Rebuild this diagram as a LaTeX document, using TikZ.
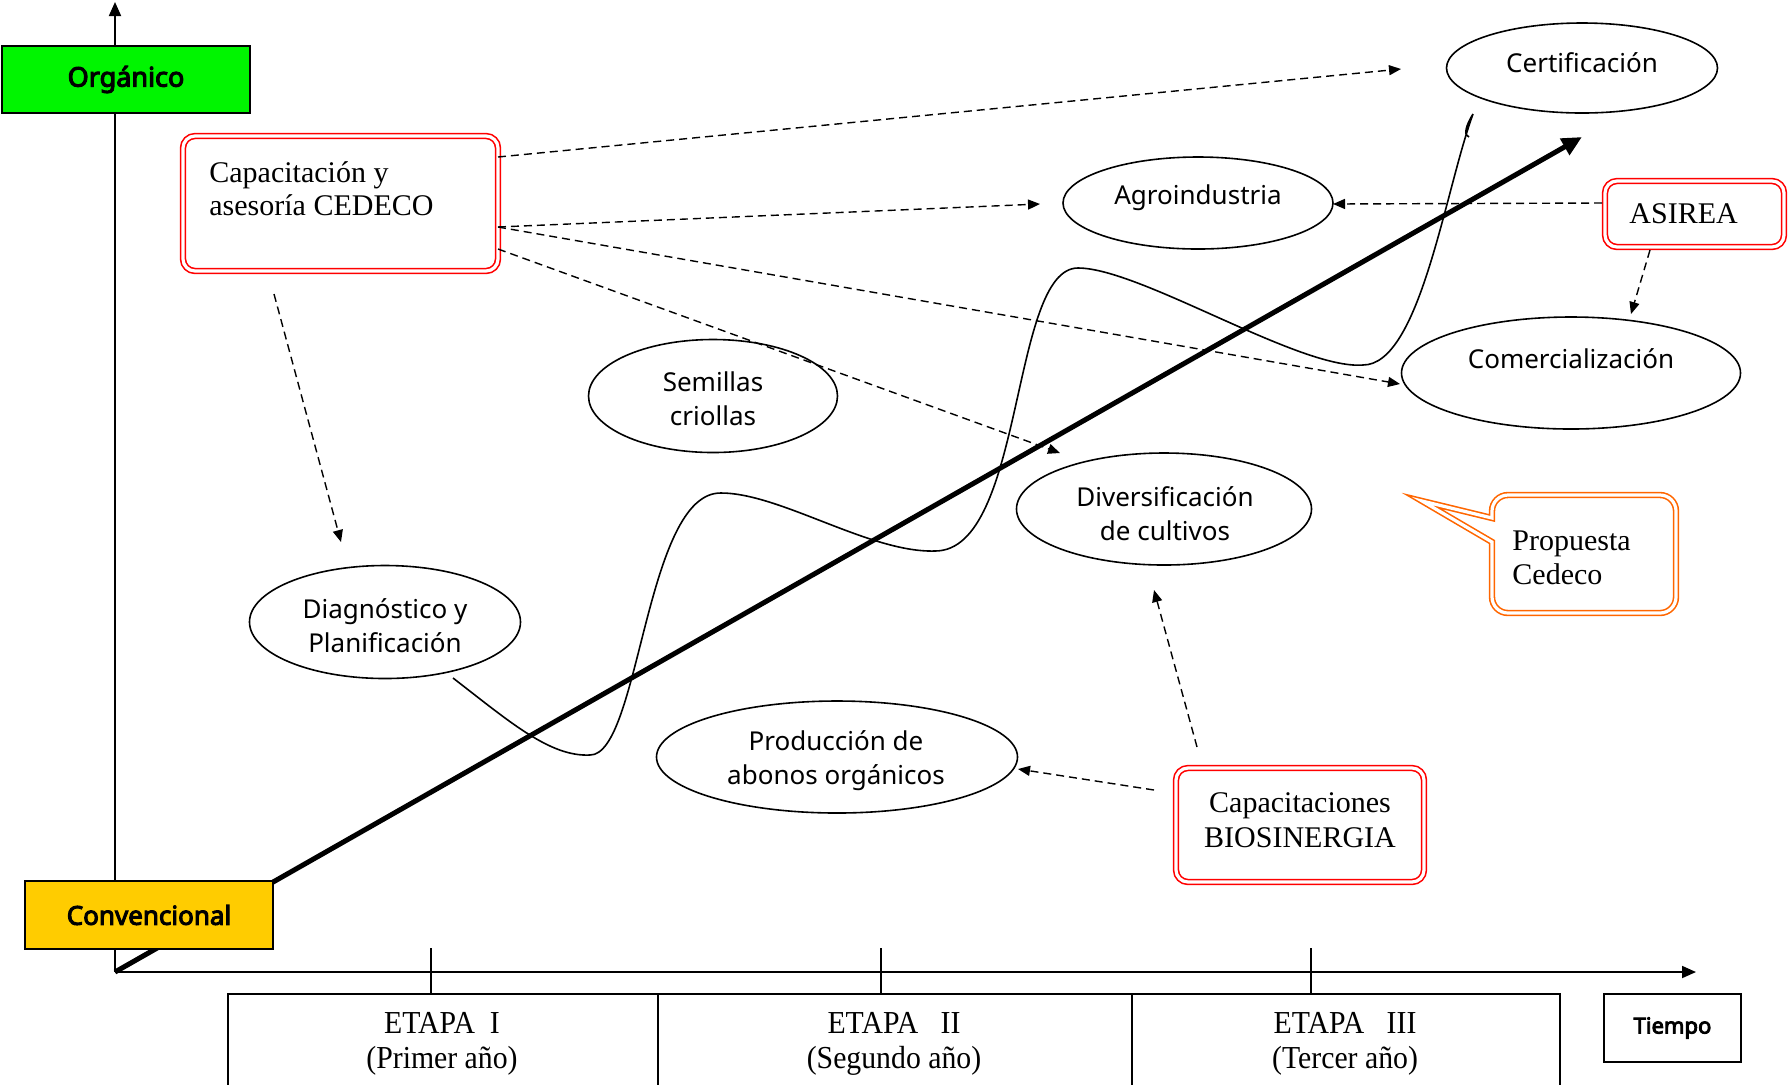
\documentclass[tikz,border=0pt]{standalone}
\usepackage{fontspec}
\setmainfont{Liberation Serif}
\newfontfamily\ovalfam{Noto Sans}
\newfontfamily\lblfam[FakeBold=4]{Noto Sans}
\newfontfamily\etapafam[FakeStretch=0.93]{Liberation Serif}
\usetikzlibrary{shapes.geometric,arrows.meta}
\definecolor{orgreen}{RGB}{0,245,0}
\definecolor{convgold}{RGB}{255,204,0}
\definecolor{callorange}{RGB}{255,102,0}
\tikzset{
  oval/.style={draw, ellipse, line width=0.8pt, inner sep=0pt},
  ovaltxt/.style={font=\ovalfam\fontsize{13}{17}\selectfont, align=center, inner sep=0pt},
  redbox/.style={draw=red, double=white, double distance=1.6pt, line width=0.8pt, rounded corners=6pt, inner sep=0pt},
  boxtxt/.style={font=\fontsize{15}{17}\selectfont, inner sep=0pt},
  darr/.style={dash pattern=on 4pt off 2.5pt, line width=0.7pt, -{Triangle[length=6pt,width=5pt]}},
  axisline/.style={line width=0.9pt},
  lblbox/.style={draw, line width=0.8pt, inner sep=0pt, font=\lblfam\fontsize{13}{16}\selectfont},
  etapabox/.style={draw, line width=0.8pt, inner sep=0pt, anchor=north west},
  etapatxt/.style={font=\etapafam\fontsize{16}{17.5}\selectfont, align=center, inner sep=0pt, anchor=north},
  wave/.style={line width=0.8pt},
}
\begin{document}
\begin{tikzpicture}[x=0.5pt,y=-0.5pt]
\useasboundingbox (0,0) rectangle (1788,1084);

% axes
\coordinate (O) at (115,972);
\coordinate (ytop) at (115,2);
\coordinate (xend) at (1696,972);
\draw[axisline, -{Triangle[length=7pt,width=6pt]}] (O) -- (ytop);
\draw[axisline, -{Triangle[length=7pt,width=6pt]}] (O) -- (xend);

% ticks
\coordinate (t1a) at (431,948); \coordinate (t1b) at (431,993);
\coordinate (t2a) at (881,948); \coordinate (t2b) at (881,993);
\coordinate (t3a) at (1311,948); \coordinate (t3b) at (1311,993);
\draw[axisline] (t1a) -- (t1b);
\draw[axisline] (t2a) -- (t2b);
\draw[axisline] (t3a) -- (t3b);

% stage boxes
\node[etapabox, minimum width=215pt, minimum height=60pt] (e1) at (227,993) {};
\node[etapabox, minimum width=237pt, minimum height=60pt] (e2) at (657,993) {};
\node[etapabox, minimum width=214pt, minimum height=60pt] (e3) at (1131,993) {};
\node[etapatxt] (e1t) at (442,1012) {ETAPA\ \ I\\(Primer año)};
\node[etapatxt] (e2t) at (894,1012) {ETAPA\ \ \ II\\(Segundo año)};
\node[etapatxt] (e3t) at (1345,1012) {ETAPA\ \ \ III\\(Tercer año)};
\node[lblbox, font=\lblfam\fontsize{11}{13}\selectfont, minimum width=68.5pt, minimum height=34pt] (tiempo) at (1672.5,1028) {Tiempo};

% thick trend arrow
\coordinate (thick) at (1582,137);
\draw[line width=2.5pt, -{Triangle[length=10pt,width=9pt]}] (O) -- (thick);

% wavy curve
\draw[wave] (453,678) .. controls (510,722) and (550,757) .. (590,755)
  .. controls (640,755) and (645,492) .. (721,493)
  .. controls (780,493) and (870,553) .. (935,551)
  .. controls (1025,551) and (1010,268) .. (1078,268)
  .. controls (1140,268) and (1300,370) .. (1363,365)
  .. controls (1420,365) and (1445,190) .. (1473,114)
  .. controls (1466,125) and (1463,136) .. (1469,137);

% ellipses
\node[oval, minimum width=135.5pt, minimum height=45pt] (cert) at (1582,68) {};
\node[oval, minimum width=135pt, minimum height=46pt] (agro) at (1198,203) {};
\node[oval, minimum width=169.5pt, minimum height=56pt] (comer) at (1571,373) {};
\node[oval, minimum width=147.5pt, minimum height=56pt] (diver) at (1164,509) {};
\node[oval, minimum width=124.5pt, minimum height=56.5pt] (semi) at (713,396) {};
\node[oval, minimum width=135.5pt, minimum height=56.5pt] (diag) at (385,622) {};
\node[oval, minimum width=180.5pt, minimum height=56pt] (prod) at (837,757) {};

\node[ovaltxt] (certt) at (1582,63) {Certificación};
\node[ovaltxt] (agrot) at (1198,198) {Agroindustria};
\node[ovaltxt] (comert) at (1571,359) {Comercialización};
\node[ovaltxt] (divert) at (1165,514) {Diversificación\\de cultivos};
\node[ovaltxt] (semit) at (713,399) {Semillas\\criollas};
\node[ovaltxt] (diagt) at (385,626) {Diagnóstico y\\Planificación};
\node[ovaltxt] (prodt) at (836,761) {Producción de\\abonos orgánicos};

% red boxes
\node[redbox, minimum width=157.5pt, minimum height=67.5pt] (cap) at (340.5,203.5) {};
\node[boxtxt, anchor=north west, align=left, font=\fontsize{15}{16.5}\selectfont] (capt) at (209,161) {Capacitación y\\asesoría CEDECO};
\node[redbox, minimum width=89.5pt, minimum height=33pt] (asi) at (1694.5,214) {};
\node[boxtxt, anchor=base west] (asit) at (1629,223) {ASIREA};
\node[redbox, minimum width=124pt, minimum height=57pt] (bio) at (1300,825) {};
\node[boxtxt, anchor=north, align=center, font=\fontsize{15}{17.5}\selectfont] (biot) at (1300,792) {Capacitaciones\\BIOSINERGIA};

% callout
\draw[draw=callorange, double=white, double distance=1.6pt, line width=0.8pt]
  (1422,501) -- (1492,518) [rounded corners=8pt] -- (1492,495) -- (1676,495) -- (1676,613) -- (1492,613) [sharp corners] -- (1492,542) -- cycle;
\node[boxtxt, anchor=north west, align=left] (propt) at (1512,530) {Propuesta\\Cedeco};

% dashed arrows
\coordinate (c1s) at (498,157);  \coordinate (c1e) at (1401,69);
\coordinate (c2s) at (498,227);  \coordinate (c2e) at (1040,204);
\coordinate (c3e) at (1400,384);
\coordinate (c4s) at (498,249);  \coordinate (c4e) at (1060,453);
\coordinate (c5s) at (274,294);  \coordinate (c5e) at (341,542);
\coordinate (c6s) at (1602,203); \coordinate (c6e) at (1333,204);
\coordinate (c7s) at (1650,250); \coordinate (c7e) at (1631,314);
\coordinate (c8s) at (1154,790); \coordinate (c8e) at (1018,769);
\coordinate (c9s) at (1197,747); \coordinate (c9e) at (1154,590);
\draw[darr] (c1s) -- (c1e);
\draw[darr] (c2s) -- (c2e);
\draw[darr] (c2s) -- (c3e);
\draw[darr] (c4s) -- (c4e);
\draw[darr] (c5s) -- (c5e);
\draw[darr] (c6s) -- (c6e);
\draw[darr] (c7s) -- (c7e);
\draw[darr] (c8s) -- (c8e);
\draw[darr] (c9s) -- (c9e);

% level labels
\node[lblbox, fill=orgreen, font=\lblfam\fontsize{13.5}{16}\selectfont, minimum width=124pt, minimum height=33.5pt] (org) at (126,79.5) {Orgánico};
\node[lblbox, fill=convgold, minimum width=124pt, minimum height=34pt] (conv) at (149,915) {Convencional};
\end{tikzpicture}
\end{document}
